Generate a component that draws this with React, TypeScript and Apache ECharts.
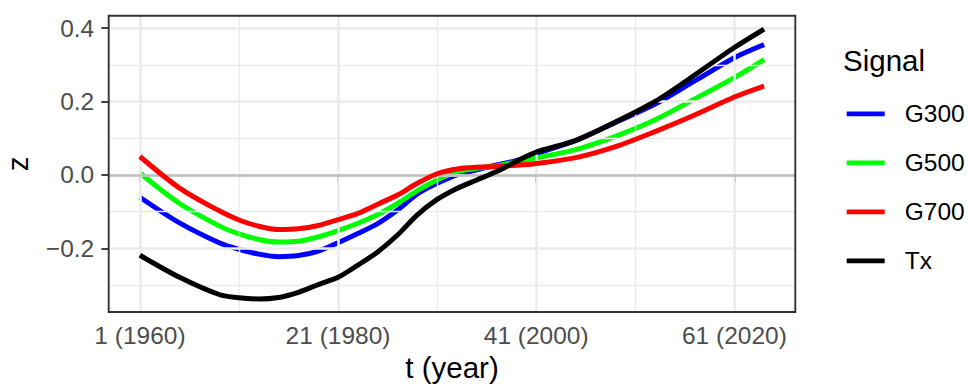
import React, { useEffect, useRef } from "react";
import * as echarts from "echarts";

// t index (1 = 1960) of the sampled points
const tIndex = [1, 5, 9, 11, 13, 15, 17, 19, 21, 23, 25, 27, 29, 31, 33, 35, 37, 39, 41, 45, 49, 53, 57, 61, 64];
const baseYear = 1960;

const g300 = [-0.061, -0.131, -0.185, -0.203, -0.216, -0.223, -0.22, -0.208, -0.185, -0.16, -0.133, -0.096, -0.052, -0.023, 0.0, 0.014, 0.027, 0.039, 0.058, 0.094, 0.143, 0.193, 0.256, 0.319, 0.355];
const g500 = [0.005, -0.078, -0.139, -0.161, -0.176, -0.183, -0.181, -0.169, -0.152, -0.132, -0.108, -0.078, -0.043, -0.014, 0.008, 0.018, 0.024, 0.036, 0.046, 0.069, 0.105, 0.15, 0.207, 0.265, 0.314];
const g700 = [0.05, -0.036, -0.098, -0.123, -0.14, -0.149, -0.147, -0.138, -0.122, -0.105, -0.08, -0.055, -0.023, 0.003, 0.016, 0.021, 0.023, 0.026, 0.031, 0.047, 0.077, 0.118, 0.163, 0.212, 0.242];
const tx = [-0.219, -0.279, -0.326, -0.335, -0.338, -0.334, -0.32, -0.299, -0.279, -0.246, -0.21, -0.164, -0.109, -0.067, -0.037, -0.014, 0.009, 0.037, 0.062, 0.094, 0.144, 0.2, 0.272, 0.347, 0.397];

const seriesNames = ["G300", "G500", "G700", "Tx"];
const seriesColors = ["#0000FF", "#00FF00", "#FF0000", "#000000"];
const seriesValues = [g300, g500, g700, tx];

const xTickYears = [1960, 1980, 2000, 2020];
const xMinorYears = [1970, 1990, 2010];
const yTicks = [-0.2, 0, 0.2, 0.4];
const yMinor = [-0.3, -0.1, 0.1, 0.3];

const FONT = "'Liberation Sans', Arial, Helvetica, sans-serif";

export default function App() {
  const ref = useRef<HTMLDivElement>(null);

  useEffect(() => {
    if (!ref.current) return;
    const chart = echarts.init(ref.current, null, { renderer: "svg" });

    const gL = 108.7, gT = 15.7, gR = 795.3, gB = 312;

    const gridLines: any[] = [];
    xMinorYears.forEach((v) => gridLines.push({ xAxis: v, lineStyle: { color: "#EBEBEB", width: 1.4, type: "solid" } }));
    yMinor.forEach((v) => gridLines.push({ yAxis: v, lineStyle: { color: "#EBEBEB", width: 1.4, type: "solid" } }));
    xTickYears.forEach((v) => gridLines.push({ xAxis: v, lineStyle: { color: "#EBEBEB", width: 2.6, type: "solid" } }));
    yTicks.forEach((v) => gridLines.push({ yAxis: v, lineStyle: { color: "#EBEBEB", width: 2.6, type: "solid" } }));
    gridLines.push({ yAxis: 0, lineStyle: { color: "#BEBEBE", width: 2.6, type: "solid" } });

    const option: any = {
      animation: false,
      grid: {
        left: gL,
        top: gT,
        right: 968 - gR,
        bottom: 386 - gB,
        show: false,
        containLabel: false,
        outerBoundsMode: "none",
      },
      xAxis: {
        type: "value",
        min: 1956.85,
        max: 2026.15,
        axisLine: { show: false },
        splitLine: { show: false },
        axisTick: {
          show: true,
          length: 7.3,
          lineStyle: { color: "#333333", width: 1.9 },
          customValues: xTickYears,
        },
        axisLabel: {
          customValues: xTickYears,
          margin: 11,
          fontSize: 24.5,
          color: "#4D4D4D",
          fontFamily: FONT,
          formatter: (v: number) => `${v - baseYear + 1} (${v})`,
        },
        name: "t (year)",
        nameLocation: "middle",
        nameGap: 35,
        nameTextStyle: { fontSize: 29.5, color: "#000000", fontFamily: FONT },
      },
      yAxis: {
        type: "value",
        min: -0.3737,
        max: 0.4337,
        axisLine: { show: false },
        splitLine: { show: false },
        axisTick: {
          show: true,
          length: 7.3,
          lineStyle: { color: "#333333", width: 1.9 },
          customValues: yTicks,
        },
        axisLabel: {
          customValues: yTicks,
          margin: 14.5,
          fontSize: 24.5,
          color: "#4D4D4D",
          fontFamily: FONT,
          formatter: (v: number) => (v < 0 ? "\u2212" + Math.abs(v).toFixed(1) : v.toFixed(1)),
        },
        name: "z",
        nameLocation: "middle",
        nameGap: 76,
        nameTextStyle: { fontSize: 29.5, color: "#000000", fontFamily: FONT },
      },
      legend: {
        data: seriesNames,
        orient: "vertical",
        left: 846.7,
        top: 101.3,
        padding: 0,
        icon: "rect",
        itemWidth: 38,
        itemHeight: 4.8,
        itemGap: 24,
        selectedMode: false,
        textStyle: {
          fontSize: 24.5,
          lineHeight: 24,
          color: "#000000",
          fontFamily: FONT,
          padding: [0, 0, 0, 15],
        },
      },
      graphic: [
        {
          type: "text",
          x: 843,
          y: 60,
          silent: true,
          style: {
            text: "Signal",
            fontSize: 29.5,
            fontFamily: FONT,
            fill: "#000000",
            verticalAlign: "middle",
            align: "left",
          },
        },
        {
          type: "rect",
          z: 100,
          silent: true,
          shape: { x: gL, y: gT, width: gR - gL, height: gB - gT },
          style: { fill: "none", stroke: "#333333", lineWidth: 1.9 },
        },
      ],
      series: [
        {
          name: "__grid",
          type: "line",
          data: [],
          z: 1,
          silent: true,
          markLine: {
            silent: true,
            symbol: ["none", "none"],
            label: { show: false },
            animation: false,
            data: gridLines,
          },
        },
        ...seriesNames.map((name, i) => ({
          name,
          type: "line",
          z: 3 + i,
          showSymbol: false,
          symbol: "none",
          smooth: 0.3,
          color: seriesColors[i],
          lineStyle: { color: seriesColors[i], width: 5, cap: "butt" },
          data: tIndex.map((t, k) => [baseYear + t - 1, seriesValues[i][k]]),
        })),
      ],
    };

    chart.setOption(option);
    return () => chart.dispose();
  }, []);

  return (
    <div
      ref={ref}
      style={{ position: "absolute", left: 0, top: 0, width: 968, height: 386 }}
    />
  );
}
